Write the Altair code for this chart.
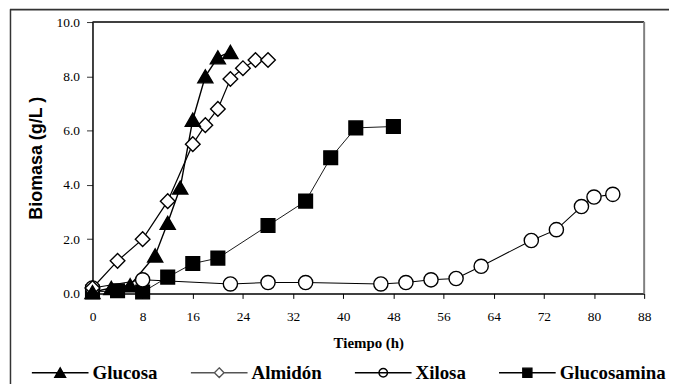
import altair as alt
import pandas as pd

series_names = ["Glucosa", "Almidón", "Xilosa", "Glucosamina"]

glucosa_t = [0, 3, 6, 10, 12, 14, 16, 18, 20, 22]
glucosa_v = [0.05, 0.2, 0.3, 1.4, 2.6, 3.9, 6.4, 8.0, 8.7, 8.9]

almidon_t = [0, 4, 8, 12, 16, 18, 20, 22, 24, 26, 28]
almidon_v = [0.2, 1.2, 2.0, 3.4, 5.5, 6.2, 6.8, 7.9, 8.3, 8.6, 8.6]

xilosa_t = [0, 8, 22, 28, 34, 46, 50, 54, 58, 62, 70, 74, 78, 80, 83]
xilosa_v = [0.2, 0.5, 0.35, 0.4, 0.4, 0.35, 0.4, 0.5, 0.55, 1.0, 1.95, 2.35, 3.2, 3.55, 3.65]

glucosamina_t = [0, 4, 8, 12, 16, 20, 28, 34, 38, 42, 48]
glucosamina_v = [0.05, 0.1, 0.05, 0.6, 1.1, 1.3, 2.5, 3.4, 5.0, 6.1, 6.15]

x_ticks = [0, 8, 16, 24, 32, 40, 48, 56, 64, 72, 80, 88]
y_ticks = [0, 2, 4, 6, 8, 10]

rows = []
for name, ts, vs in [
    ("Glucosamina", glucosamina_t, glucosamina_v),
    ("Xilosa", xilosa_t, xilosa_v),
    ("Almidón", almidon_t, almidon_v),
    ("Glucosa", glucosa_t, glucosa_v),
]:
    for t, v in zip(ts, vs):
        rows.append({"serie": name, "t": t, "v": v})
df = pd.DataFrame(rows)

W, H = 555, 273

x_enc = alt.X(
    "t:Q",
    scale=alt.Scale(domain=[0, 88], nice=False),
    axis=alt.Axis(
        values=x_ticks, title="Tiempo (h)", grid=False,
        labelFont="Liberation Serif", labelFontSize=13.5, labelColor="black",
        labelPadding=11, labelFlush=False, tickSize=5, tickColor="black",
        domainColor="black", domainWidth=1.5,
        titleFont="Liberation Serif", titleFontSize=15, titleFontWeight="bold",
        titleColor="black", titleY=49, titleBaseline="middle",
    ),
)
y_enc = alt.Y(
    "v:Q",
    scale=alt.Scale(domain=[0, 10], nice=False),
    axis=alt.Axis(
        values=y_ticks, format=".1f", title="Biomasa (g/L )", grid=False,
        labelFont="Liberation Serif", labelFontSize=13.5, labelColor="black",
        labelPadding=7, labelFlush=False, tickSize=6, tickColor="#333",
        domainColor="black", domainWidth=1.5,
        titleFont="Liberation Sans", titleFontSize=18, titleFontWeight="bold",
        titleColor="black", titleX=-56, titleY=H / 2, titleAngle=270,
        titleBaseline="middle", titleAlign="center",
    ),
)

lines = alt.Chart(df).mark_line(color="black").encode(
    x=x_enc, y=y_enc, detail="serie:N",
    strokeWidth=alt.StrokeWidth(
        "serie:N",
        scale=alt.Scale(domain=series_names, range=[1.4, 0.9, 1.4, 1.4]),
        legend=None,
    ),
)

points = alt.Chart(df).mark_point(filled=True, stroke="black", strokeWidth=1.4, opacity=1).encode(
    x=x_enc, y=y_enc,
    shape=alt.Shape("serie:N", scale=alt.Scale(domain=series_names,
                    range=["triangle-up", "diamond", "circle", "square"]), legend=None),
    fill=alt.Fill("serie:N", scale=alt.Scale(domain=series_names,
                  range=["black", "white", "white", "black"]), legend=None),
    size=alt.Size("serie:N", scale=alt.Scale(domain=series_names,
                  range=[230, 190, 200, 140]), legend=None),
)

legend_paths = [
    "M-1,0H1M0,-0.17L0.19,0.16L-0.19,0.16Z",
    "M-1,0H-0.17M0.17,0H1M0,-0.17L0.17,0L0,0.17L-0.17,0Z",
    "M-1,0H1M0.15,0A0.15,0.15 0 1,1 -0.15,0A0.15,0.15 0 1,1 0.15,0Z",
    "M-1,0H1M-0.16,-0.16H0.16V0.16H-0.16Z",
]

leg = alt.Legend(
    title=None, orient="none", legendX=-62, legendY=323, direction="horizontal",
    symbolSize=3249, symbolStrokeWidth=1.4, symbolOpacity=1,
    labelFont="Liberation Serif", labelFontSize=19, labelFontWeight="bold",
    labelColor="black", labelOffset=3, columnPadding=30, labelLimit=300,
)

legend_layer = alt.Chart(df).transform_filter("datum.t < 0").mark_point(
    filled=True, opacity=1, strokeWidth=1.4
).encode(
    x=x_enc, y=y_enc,
    shape=alt.Shape("serie:N", scale=alt.Scale(domain=series_names, range=legend_paths), legend=leg),
    fill=alt.Fill("serie:N", scale=alt.Scale(domain=series_names,
                  range=["black", "white", "white", "black"]), legend=leg),
    stroke=alt.Stroke("serie:N", scale=alt.Scale(domain=series_names,
                      range=["black", "#555555", "black", "black"]), legend=leg),
)

one = pd.DataFrame({"k": [0]})
top_rule = alt.Chart(one).mark_rule(color="black", strokeWidth=1.5).encode(
    x=alt.value(0), x2=alt.value(W), y=alt.value(0))
right_rule = alt.Chart(one).mark_rule(color="#808080", strokeWidth=2).encode(
    x=alt.value(W), y=alt.value(0), y2=alt.value(H))
outer_top = alt.Chart(one).mark_rule(color="#333333", strokeWidth=2).encode(
    x=alt.value(-83), x2=alt.value(W + 30), y=alt.value(-12.5))
outer_left = alt.Chart(one).mark_rule(color="#333333", strokeWidth=1.5).encode(
    x=alt.value(-82.5), y=alt.value(-13), y2=alt.value(H + 100))

chart = alt.layer(
    outer_top, outer_left, top_rule, right_rule, lines, points, legend_layer
).resolve_scale(
    shape="independent", fill="independent", stroke="independent"
).properties(
    width=W, height=H,
    autosize=alt.AutoSizeParams(type="none"),
    padding={"left": 85, "top": 13, "right": 25, "bottom": 90},
    background="white",
).configure_view(stroke=None)

chart.save("out.html", embed_options={"renderer": "svg", "actions": False})
